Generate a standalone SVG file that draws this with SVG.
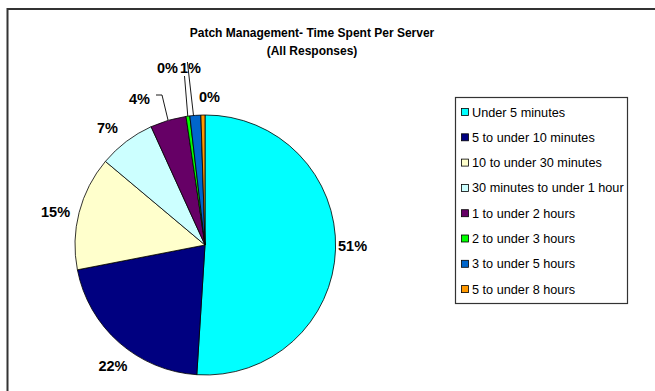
<svg xmlns="http://www.w3.org/2000/svg" width="655" height="391" viewBox="0 0 655 391">
<style>
.lbl{font-family:"Liberation Sans",Arial,sans-serif;font-weight:bold;font-size:14.5px;fill:#000}
.ttl{font-family:"Liberation Sans",Arial,sans-serif;font-weight:bold;font-size:12px;fill:#000;text-anchor:middle}
.leg{font-family:"Liberation Sans",Arial,sans-serif;font-size:12.7px;fill:#000}
.sl{stroke:#000;stroke-width:0.8;stroke-linejoin:round}
.sw{stroke:#000;stroke-width:0.8}
.ld{fill:none;stroke:#000;stroke-width:0.9}
</style>
<rect x="0" y="0" width="655" height="391" fill="#fff"/>
<rect x="7.5" y="9" width="700" height="450" fill="none" stroke="#333" stroke-width="2"/>
<g id="title">
<text class="ttl" x="312" y="37">Patch Management- Time Spent Per Server</text>
<text class="ttl" x="312" y="55">(All Responses)</text>
</g>
<g id="pie">
<path id="s1" class="sl" fill="#00FFFF" d="M205,245 L205,115 A130,130 0 1 1 196.8,374.7 Z"/>
<path id="s2" class="sl" fill="#000080" d="M205,245 L196.8,374.7 A130,130 0 0 1 77.4,269.8 Z"/>
<path id="s3" class="sl" fill="#FFFFCC" d="M205,245 L77.4,269.8 A130,130 0 0 1 105.4,161.4 Z"/>
<path id="s4" class="sl" fill="#CCFFFF" d="M205,245 L105.4,161.4 A130,130 0 0 1 151.1,126.7 Z"/>
<path id="s5" class="sl" fill="#660066" d="M205,245 L151.1,126.7 A130,130 0 0 1 186.0,116.4 Z"/>
<path id="s6" class="sl" fill="#00FF00" d="M205,245 L186.0,116.4 A130,130 0 0 1 189.8,115.9 Z"/>
<path id="s7" class="sl" fill="#0066CC" d="M205,245 L189.8,115.9 A130,130 0 0 1 200.9,115.1 Z"/>
<path id="s8" class="sl" fill="#FF9900" d="M205,245 L200.9,115.1 A130,130 0 0 1 205,115 Z"/>
</g>
<g id="connectors">
<polyline class="ld" points="156,95 162,95 168,120"/>
<line class="ld" x1="184.5" y1="76" x2="187.8" y2="116.3"/>
<line class="ld" x1="187.4" y1="62" x2="193.5" y2="115.6"/>
</g>
<g id="labels">
<text class="lbl" x="338" y="251">51%</text>
<text class="lbl" x="113" y="371" text-anchor="middle">22%</text>
<text class="lbl" x="41" y="217">15%</text>
<text class="lbl" x="97" y="133">7%</text>
<text class="lbl" x="129" y="104">4%</text>
<text class="lbl" x="157" y="73">0%</text>
<text class="lbl" x="180" y="73">1%</text>
<text class="lbl" x="199" y="102">0%</text>
</g>
<g id="legend">
<rect x="455.5" y="97.5" width="172" height="206" fill="#fff" stroke="#333" stroke-width="1.2"/>
<rect class="sw" x="461.5" y="108.5" width="7" height="7" fill="#00FFFF"/>
<text class="leg" x="472" y="116.5">Under 5 minutes</text>
<rect class="sw" x="461.5" y="133.8" width="7" height="7" fill="#000080"/>
<text class="leg" x="472" y="141.8">5 to under 10 minutes</text>
<rect class="sw" x="461.5" y="159.1" width="7" height="7" fill="#FFFFCC"/>
<text class="leg" x="472" y="167.1">10 to under 30 minutes</text>
<rect class="sw" x="461.5" y="184.4" width="7" height="7" fill="#CCFFFF"/>
<text class="leg" x="472" y="192.4">30 minutes to under 1 hour</text>
<rect class="sw" x="461.5" y="209.7" width="7" height="7" fill="#660066"/>
<text class="leg" x="472" y="217.7">1 to under 2 hours</text>
<rect class="sw" x="461.5" y="235" width="7" height="7" fill="#00FF00"/>
<text class="leg" x="472" y="243">2 to under 3 hours</text>
<rect class="sw" x="461.5" y="260.3" width="7" height="7" fill="#0066CC"/>
<text class="leg" x="472" y="268.3">3 to under 5 hours</text>
<rect class="sw" x="461.5" y="285.6" width="7" height="7" fill="#FF9900"/>
<text class="leg" x="472" y="293.6">5 to under 8 hours</text>
</g>
</svg>
